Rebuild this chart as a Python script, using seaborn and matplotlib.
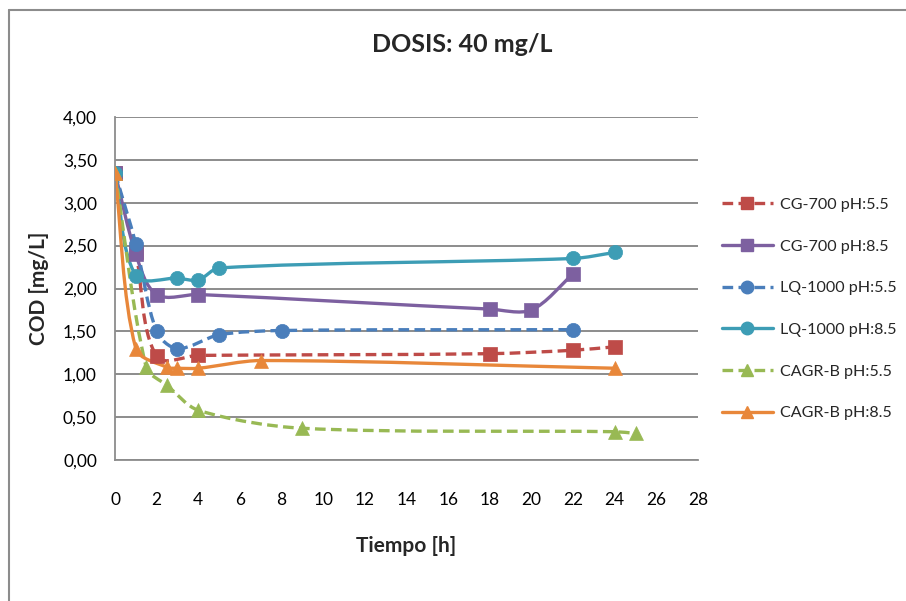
import numpy as np
import pandas as pd
import matplotlib
matplotlib.use("Agg")
import matplotlib.pyplot as plt
import seaborn as sns
from matplotlib.path import Path
from matplotlib.patches import PathPatch
from matplotlib.lines import Line2D
from matplotlib.ticker import FuncFormatter, MultipleLocator

# ---- data ----
cg55_t = [0, 1, 2, 4, 18, 22, 24]
cg55_v = [3.35, 2.42, 1.21, 1.22, 1.24, 1.28, 1.32]

cg85_t = [0, 1, 2, 4, 18, 20, 22]
cg85_v = [3.35, 2.40, 1.93, 1.93, 1.76, 1.75, 2.17]

lq55_t = [0, 1, 2, 3, 5, 8, 22]
lq55_v = [3.35, 2.52, 1.50, 1.30, 1.46, 1.51, 1.52]

lq85_t = [0, 1, 3, 4, 5, 22, 24]
lq85_v = [3.35, 2.15, 2.12, 2.10, 2.24, 2.35, 2.42]

ca55_t = [0, 1.5, 2.5, 4, 9, 24, 25]
ca55_v = [3.35, 1.08, 0.87, 0.58, 0.37, 0.33, 0.31]

ca85_t = [0, 1, 2.5, 3, 4, 7, 24]
ca85_v = [3.35, 1.30, 1.08, 1.07, 1.07, 1.16, 1.07]

series_names = ["CG-700 pH:5.5", "CG-700 pH:8.5", "LQ-1000 pH:5.5",
                "LQ-1000 pH:8.5", "CAGR-B pH:5.5", "CAGR-B pH:8.5"]
series_t = [cg55_t, cg85_t, lq55_t, lq85_t, ca55_t, ca85_t]
series_v = [cg55_v, cg85_v, lq55_v, lq85_v, ca55_v, ca85_v]

x_ticks = list(range(0, 30, 2))
title = "DOSIS: 40 mg/L"
x_label = "Tiempo [h]"
y_label = "COD [mg/L]"

# ---- styles ----
colors = ["#BE4B48", "#7D60A0", "#4A7EBB", "#3D9DB5", "#98B954", "#E8873A"]
markers = ["s", "s", "o", "o", "^", "^"]
dashed = [True, False, True, False, True, False]

sns.set_style("white")
plt.rcParams["font.family"] = ["Lato", "DejaVu Sans"]

fig = plt.figure(figsize=(9.06, 6.01), dpi=100)
ax = fig.add_axes([115 / 906, 1 - 460 / 601, (698 - 115) / 906, (460 - 117) / 601])

SX = 583 / 28.0   # approx. screen scaling used only for smoothing shape
SY = 343 / 4.0


def smooth_path(t, v):
    pts = np.column_stack([np.asarray(t, float) * SX, np.asarray(v, float) * SY])
    n = len(pts)
    verts = [pts[0]]
    codes = [Path.MOVETO]

    def tangent(i):
        a = pts[i - 1] if i > 0 else pts[i]
        b = pts[i + 1] if i + 1 < n else pts[i]
        d = b - a
        L = np.hypot(*d)
        return d / L if L > 0 else d

    for i in range(n - 1):
        p1, p2 = pts[i], pts[i + 1]
        seg = np.hypot(*(p2 - p1))
        c1 = p1 + tangent(i) * seg * 0.3
        c2 = p2 - tangent(i + 1) * seg * 0.3
        verts += [c1, c2, p2]
        codes += [Path.CURVE4] * 3
    verts = np.array(verts)
    verts[:, 0] /= SX
    verts[:, 1] /= SY
    return Path(verts, codes)


handles = []
for name, t, v, c, m, d in zip(series_names, series_t, series_v, colors, markers, dashed):
    ls = (0, (3.2, 1.6)) if d else "-"
    patch = PathPatch(smooth_path(t, v), facecolor="none", edgecolor=c,
                      lw=2.4, linestyle=ls, transform=ax.transData, zorder=2,
                      capstyle="butt")
    ax.add_patch(patch)
    df = pd.DataFrame({"t": t, "v": v})
    ms = 100 if m == "^" else (90 if m == "s" else 105)
    sns.scatterplot(data=df, x="t", y="v", marker=m, color=c, s=ms,
                    edgecolor=c, linewidth=0.5, ax=ax, zorder=3, legend=False)
    handles.append(Line2D([], [], color=c, lw=2.4, linestyle=ls, marker=m,
                          markersize=9, markerfacecolor=c, markeredgecolor=c))

ax.set_xlim(0, 28)
ax.set_ylim(0, 4)
ax.set_xticks(x_ticks)
ax.yaxis.set_major_locator(MultipleLocator(0.5))
ax.yaxis.set_major_formatter(FuncFormatter(lambda y, p: f"{y:.2f}".replace(".", ",")))
ax.grid(axis="y", color="#8C8C8C", lw=1.4)
ax.set_axisbelow(True)
for s in ["top", "right"]:
    ax.spines[s].set_visible(False)
for s in ["left", "bottom"]:
    ax.spines[s].set_color("#8C8C8C")
    ax.spines[s].set_linewidth(1.3)
ax.tick_params(axis="both", direction="out", length=5, width=1.2, color="#8C8C8C",
               labelsize=12.5, labelcolor="#000000")
ax.tick_params(axis="x", pad=18)
ax.tick_params(axis="y", pad=8)
ax.set_xlabel(x_label, fontsize=15, fontweight="bold", labelpad=20)
ax.set_ylabel(y_label, fontsize=15, fontweight="bold", labelpad=10)
fig.text(0.51, 1 - 45 / 601, title, fontsize=18, fontweight="bold",
         ha="center", va="center")

fig.legend(handles, series_names, loc="center left",
           bbox_to_anchor=(707 / 906, 1 - 309 / 601), frameon=False,
           fontsize=11.6, handlelength=3.2, labelspacing=1.7, handletextpad=0.4)

# chart-area border (top and left only visible)
fig.add_artist(Line2D([9 / 906, 9 / 906], [0, 1 - 10 / 601], transform=fig.transFigure,
                      color="#8C8C8C", lw=1.5))
fig.add_artist(Line2D([9 / 906, 1], [1 - 10 / 601, 1 - 10 / 601], transform=fig.transFigure,
                      color="#8C8C8C", lw=1.5))

fig.savefig("out.png", dpi=100)
